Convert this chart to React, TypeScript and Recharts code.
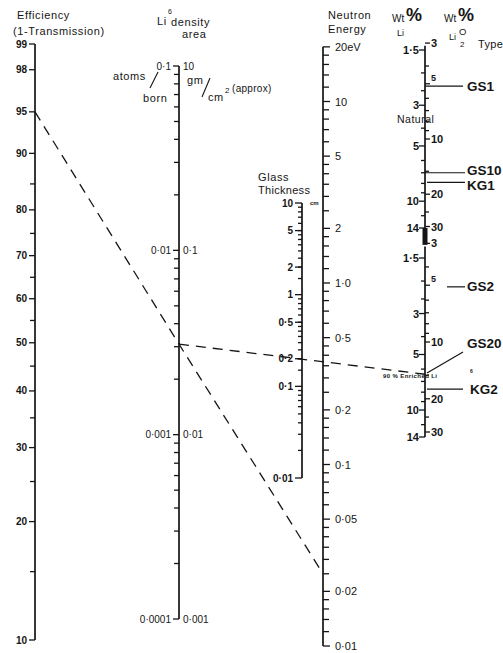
import React, { useCallback, useLayoutEffect, useState } from "react";
import { ComposedChart, Line, Scatter, XAxis, YAxis } from "recharts";

const W = 503;
const H = 653;
const INK = "#151515";
const FONT = '"Liberation Sans", Arial, sans-serif';

// ---- values ----
const EFF_TICKS = [99, 98, 95, 90, 80, 70, 60, 50, 40, 30, 20, 10];
const EFF_MINOR = [85, 75, 65, 55, 45, 35, 25, 15];

const DENSITY_ATOMS = [0.1, 0.01, 0.001, 0.0001];
const DENSITY_ATOM_LABELS = ["0·1", "0·01", "0·001", "0·0001"];
const DENSITY_GM_LABELS = ["10", "0·1", "0·01", "0·001"];
const DENSITY_MULTS = [2, 3, 4, 5, 6, 7, 8, 9];

const GLASS_TICKS = [10, 5, 2, 1, 0.5, 0.2, 0.1, 0.01];
const GLASS_LABELS = ["10", "5", "2", "1", "0·5", "0·2", "0·1", "0·01"];
const GLASS_MULTS_FINE = [1.5, 2, 2.5, 3, 3.5, 4, 4.5, 5, 6, 7, 8, 9];
const GLASS_MULTS = [2, 3, 4, 5, 6, 7, 8, 9];

const ENERGY_TICKS = [20, 10, 5, 2, 1, 0.5, 0.2, 0.1, 0.05, 0.02, 0.01];
const ENERGY_LABELS = ["20eV", "10", "5", "2", "1·0", "0·5", "0·2", "0·1", "0·05", "0·02", "0·01"];
const ENERGY_MULTS = [1.2, 1.4, 1.6, 1.8, 2.5, 3, 3.5, 4, 4.5, 6, 7, 8, 9];

const LI_TICKS = [1.5, 3, 5, 10, 14];
const LI_MINOR = [2, 2.5, 4, 6, 7, 8, 9, 12];
const LI2O_TICKS = [3, 5, 10, 20, 30];
const LI2O_MINOR = [4, 6, 7, 8, 9, 15, 25];

const TYPE_NAMES = ["GS1", "GS10", "KG1", "GS2", "GS20", "KG2"];
const TYPE_LITHIUM = ["liNat", "liNat", "liNat", "liEnr", "liEnr", "liEnr"];
const TYPE_LI_WT = [2.36, 7.0, 7.9, 2.15, 6.3, 7.7];

// worked example drawn as the dashed index lines
const EX_EFFICIENCY = 95;
const EX_DENSITY = 0.0031;
const EX_ENERGY = 0.025;
const EX_LI_WT = 6.4;

// ---- layout ----
const COL: Record<string, number> = {
  eff: 35, density: 179, glass: 302, energy: 323,
  liNat: 425, li2oNat: 425, liEnr: 425, li2oEnr: 425,
};

// efficiency axis is logarithmic in -ln(1 - efficiency)
const mu = (pct: number) => -Math.log(1 - pct / 100);

// [value, y, value, y] : where two values of each scale sit on the page
const ANCHORS: Record<string, number[]> = {
  eff: [mu(99), 44, mu(10), 640],
  density: [0.1, 66, 0.0001, 619],
  glass: [10, 203, 0.01, 478],
  energy: [1, 283, 0.01, 646],
  liNat: [1.5, 50, 14, 228],
  li2oNat: [10, 139, 30, 226.5],
  liEnr: [1.5, 258, 14, 437],
  li2oEnr: [10, 342, 30, 432],
};

const logDomain = ([v1, y1, v2, y2]: number[]) => {
  const d = (Math.log10(v1) - Math.log10(v2)) / (y2 - y1);
  return [10 ** (Math.log10(v1) - (H - y1) * d), 10 ** (Math.log10(v1) + y1 * d)];
};

const minors = (decades: number[], mults: number[], lo: number, hi: number) =>
  decades
    .flatMap((d) => mults.map((m) => +(d * m).toPrecision(4)))
    .filter((v) => v > lo && v < hi);

type Tick = { x: number; v: number; l?: string; r?: string; major?: boolean };

const effTicks: Tick[] = [
  ...EFF_TICKS.map((e) => ({ x: COL.eff, v: mu(e), l: String(e), major: true })),
  ...EFF_MINOR.map((e) => ({ x: COL.eff, v: mu(e) })),
];
const densityTicks: Tick[] = [
  ...DENSITY_ATOMS.map((v, i) => ({
    x: COL.density, v, l: DENSITY_ATOM_LABELS[i], r: DENSITY_GM_LABELS[i], major: true,
  })),
  ...minors([0.01, 0.001, 0.0001], DENSITY_MULTS, 0.0001, 0.1).map((v) => ({ x: COL.density, v })),
];
const glassTicks: Tick[] = [
  ...GLASS_TICKS.map((v, i) => ({ x: COL.glass, v, l: GLASS_LABELS[i], major: true })),
  ...minors([1, 0.1], GLASS_MULTS_FINE, 0.1, 10).map((v) => ({ x: COL.glass, v })),
  ...minors([0.01], GLASS_MULTS, 0.01, 0.1).map((v) => ({ x: COL.glass, v })),
];
const energyTicks: Tick[] = [
  ...ENERGY_TICKS.map((v, i) => ({ x: COL.energy, v, r: ENERGY_LABELS[i], major: true })),
  ...minors([10, 1, 0.1, 0.01], ENERGY_MULTS, 0.01, 20).map((v) => ({ x: COL.energy, v })),
];
const fmt = (v: number) => String(v).replace(".", "·");
const liTicks = (axis: string): Tick[] => [
  ...LI_TICKS.map((v) => ({ x: COL[axis], v, l: fmt(v), major: true })),
  ...LI_MINOR.map((v) => ({ x: COL[axis], v })),
];
const li2oTicks = (axis: string): Tick[] => [
  ...LI2O_TICKS.map((v) => ({ x: COL[axis], v, r: fmt(v), major: true })),
  ...LI2O_MINOR.map((v) => ({ x: COL[axis], v })),
];

type Cfg = { side: number; len: number; majorLen: number; lgap: number; rgap: number; size: number; weight: number; raised?: string[] };
const CFG: Record<string, Cfg> = {
  eff: { side: -1, len: 5, majorLen: 6, lgap: 8, rgap: 0, size: 10, weight: 700 },
  density: { side: -1, len: 5, majorLen: 6, lgap: 8, rgap: 4, size: 10, weight: 400 },
  glass: { side: -1, len: 4, majorLen: 7, lgap: 9, rgap: 0, size: 10, weight: 700 },
  energy: { side: 1, len: 6, majorLen: 7, lgap: 0, rgap: 12, size: 11, weight: 400 },
  li: { side: -1, len: 4, majorLen: 6, lgap: 6, rgap: 0, size: 11, weight: 700 },
  li2o: { side: 1, len: 4, majorLen: 5, lgap: 0, rgap: 6, size: 11, weight: 700, raised: ["5"] },
};

const TickMark = (props: any) => {
  const { cx, cy, payload, cfg } = props as { cx: number; cy: number; payload: Tick; cfg: Cfg };
  if (!Number.isFinite(cx) || !Number.isFinite(cy)) return <g />;
  const len = payload.major ? cfg.majorLen : cfg.len;
  const raised = payload.r && cfg.raised?.includes(payload.r);
  const txt = { fontFamily: FONT, fontSize: cfg.size, fontWeight: cfg.weight, fill: INK };
  return (
    <g>
      <line x1={cx} x2={cx + cfg.side * len} y1={cy} y2={cy} stroke={INK} strokeWidth={1.3} />
      {payload.l && (
        <text x={cx - cfg.lgap} y={cy} textAnchor="end" dominantBaseline="central" {...txt}>
          {payload.l}
        </text>
      )}
      {payload.r && (
        <text
          x={cx + cfg.rgap}
          y={raised ? cy - 6 : cy}
          textAnchor="start"
          dominantBaseline="central"
          {...txt}
          fontSize={raised ? 9 : cfg.size}
        >
          {payload.r}
        </text>
      )}
    </g>
  );
};

// how each glass type pointer is drawn, relative to its point on the Li axis
const TYPE_MARK: Record<string, { from: number; to: number; dy: number; lx: number; ly: number }> = {
  GS1: { from: 0, to: 38, dy: 0, lx: 42, ly: 0 },
  GS10: { from: 0, to: 40, dy: 0, lx: 42, ly: -2 },
  KG1: { from: 2, to: 40, dy: 0, lx: 42, ly: 3 },
  GS2: { from: 22, to: 40, dy: 0, lx: 42, ly: 0 },
  GS20: { from: 2, to: 38, dy: -21, lx: 42, ly: -30 },
  KG2: { from: 2, to: 38, dy: 0, lx: 45, ly: 0 },
};

const TypeMark = (props: any) => {
  const { cx, cy, payload } = props;
  if (!Number.isFinite(cx) || !Number.isFinite(cy)) return <g />;
  const m = TYPE_MARK[payload.name];
  return (
    <g>
      <line x1={cx + m.from} y1={cy} x2={cx + m.to} y2={cy + m.dy} stroke={INK} strokeWidth={1.2} />
      <text
        x={cx + m.lx}
        y={cy + m.ly}
        dominantBaseline="central"
        fontFamily={FONT}
        fontSize={13.5}
        fontWeight={700}
        fill={INK}
      >
        {payload.name}
      </text>
    </g>
  );
};

const Anchor = (props: any) => {
  const { cx, cy, id, onPos } = props;
  useLayoutEffect(() => {
    if (Number.isFinite(cx) && Number.isFinite(cy)) onPos(id, cx, cy);
  }, [cx, cy, id, onPos]);
  return <g />;
};

const VERTICES = [
  { id: "eff", axis: "eff", v: mu(EX_EFFICIENCY) },
  { id: "density", axis: "density", v: EX_DENSITY },
  { id: "energy", axis: "energy", v: EX_ENERGY },
  { id: "li", axis: "liEnr", v: EX_LI_WT },
];
const INDEX_LINES = [["eff", "density", "energy"], ["density", "li"]];

const AXIS_LINES: [string, number, number][] = [
  ["eff", mu(99), mu(10)],
  ["density", 0.1, 0.0001],
  ["glass", 10, 0.01],
  ["energy", 20, 0.01],
  ["liNat", 1.42, 14],
  ["liEnr", 1.3, 14],
];

const T = ({ x, y, s = 11, w = 400, ls = 0.6, children }: any) => (
  <text
    x={x}
    y={y}
    fontSize={s}
    fontWeight={w}
    letterSpacing={ls}
    dominantBaseline="central"
    fontFamily={FONT}
    fill={INK}
  >
    {children}
  </text>
);

export default function App() {
  const [pos, setPos] = useState<Record<string, [number, number]>>({});
  const onPos = useCallback((id: string, x: number, y: number) => {
    setPos((p) => (p[id] && p[id][0] === x && p[id][1] === y ? p : { ...p, [id]: [x, y] }));
  }, []);

  const tickSeries: [string, Tick[], Cfg][] = [
    ["eff", effTicks, CFG.eff],
    ["density", densityTicks, CFG.density],
    ["glass", glassTicks, CFG.glass],
    ["energy", energyTicks, CFG.energy],
    ["liNat", liTicks("liNat"), CFG.li],
    ["liEnr", liTicks("liEnr"), CFG.li],
    ["li2oNat", li2oTicks("li2oNat"), CFG.li2o],
    ["li2oEnr", li2oTicks("li2oEnr"), CFG.li2o],
  ];

  return (
    <div style={{ position: "absolute", left: 0, top: 0, width: W, height: H, background: "#fff" }}>
      <ComposedChart width={W} height={H} margin={{ top: 0, right: 0, bottom: 0, left: 0 }}>
        <XAxis dataKey="x" type="number" domain={[0, W]} allowDataOverflow hide />
        {Object.keys(ANCHORS).map((id) => (
          <YAxis
            key={id}
            yAxisId={id}
            dataKey="v"
            type="number"
            scale="log"
            domain={logDomain(ANCHORS[id])}
            allowDataOverflow
            hide
          />
        ))}
        {AXIS_LINES.map(([id, a, b]) => (
          <Line
            key={"ax-" + id}
            yAxisId={id}
            data={[{ x: COL[id], v: a }, { x: COL[id], v: b }]}
            dataKey="v"
            stroke={INK}
            strokeWidth={1.7}
            dot={false}
            activeDot={false}
            isAnimationActive={false}
          />
        ))}
        {/* solid bar where the natural and enriched scales meet */}
        <Line
          yAxisId="liNat"
          data={[{ x: COL.liNat, v: 14 }, { x: COL.liNat, v: 17.3 }]}
          dataKey="v"
          stroke={INK}
          strokeWidth={5}
          dot={false}
          activeDot={false}
          isAnimationActive={false}
        />
        {tickSeries.map(([id, data, cfg]) => (
          <Scatter
            key={"tk-" + id}
            yAxisId={id}
            data={data}
            shape={(p: any) => <TickMark {...p} cfg={cfg} />}
            isAnimationActive={false}
          />
        ))}
        {["liNat", "liEnr"].map((axis) => (
          <Scatter
            key={"ty-" + axis}
            yAxisId={axis}
            data={TYPE_NAMES.map((name, i) => ({ name, axis: TYPE_LITHIUM[i], x: COL[axis], v: TYPE_LI_WT[i] })).filter(
              (d) => d.axis === axis
            )}
            shape={(p: any) => <TypeMark {...p} />}
            isAnimationActive={false}
          />
        ))}
        {VERTICES.map((vx) => (
          <Scatter
            key={"vx-" + vx.id}
            yAxisId={vx.axis}
            data={[{ x: COL[vx.axis], v: vx.v }]}
            shape={(p: any) => <Anchor {...p} id={vx.id} onPos={onPos} />}
            isAnimationActive={false}
          />
        ))}
      </ComposedChart>

      <svg
        width={W}
        height={H}
        style={{ position: "absolute", left: 0, top: 0, pointerEvents: "none" }}
      >
        {INDEX_LINES.map((ids, i) => {
          const pts = ids.map((id) => pos[id]);
          if (pts.some((p) => !p)) return null;
          return (
            <polyline
              key={i}
              points={pts.map((p) => p.join(",")).join(" ")}
              fill="none"
              stroke={INK}
              strokeWidth={1.3}
              strokeDasharray="10 7"
            />
          );
        })}

        <T x={17} y={15}>Efficiency</T>
        <T x={13} y={31}>(1-Transmission)</T>

        <T x={157} y={21}>Li</T>
        <T x={168} y={11} s={7} ls={0}>6</T>
        <T x={171} y={22}>density</T>
        <T x={182} y={34}>area</T>
        <T x={113} y={76}>atoms</T>
        <line x1={150} y1={88} x2={158} y2={72} stroke={INK} strokeWidth={1.1} />
        <T x={143} y={98}>born</T>
        <T x={187} y={80}>gm</T>
        <line x1={202} y1={97} x2={210} y2={78} stroke={INK} strokeWidth={1.1} />
        <T x={208} y={97}>cm</T>
        <T x={225} y={90} s={8} ls={0}>2</T>
        <T x={232} y={88} s={10} ls={0.3}>(approx)</T>

        <T x={258} y={177}>Glass</T>
        <T x={258} y={190} ls={0.3}>Thickness</T>
        <T x={310} y={203} s={6} ls={0} w={700}>cm</T>

        <T x={328} y={15}>Neutron</T>
        <T x={328} y={29}>Energy</T>

        <T x={392} y={18} s={10} ls={0}>Wt</T>
        <T x={406} y={15} s={18} w={700} ls={0}>%</T>
        <T x={397} y={33} s={9} ls={0}>Li</T>
        <T x={444} y={18} s={10} ls={0}>Wt</T>
        <T x={458} y={15} s={18} w={700} ls={0}>%</T>
        <T x={449} y={37} s={9} ls={0}>Li</T>
        <T x={459} y={31} s={9.5} ls={0}>O</T>
        <T x={460} y={44} s={8} ls={0}>2</T>
        <T x={478} y={44} ls={0.3}>Type</T>

        <T x={397} y={119} s={10.5} ls={0.5}>Natural</T>
        <T x={383} y={376} s={6} w={700} ls={0.4}>90 % Enriched Li</T>
        <T x={470} y={371} s={5} w={700} ls={0}>6</T>
      </svg>
    </div>
  );
}
